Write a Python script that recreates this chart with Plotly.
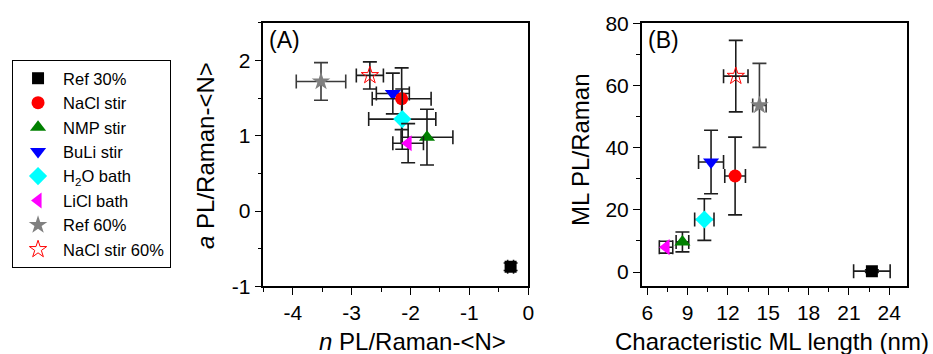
import plotly.graph_objects as go

names = ["Ref 30%", "NaCl stir", "NMP stir", "BuLi stir", "H<sub>2</sub>O bath",
         "LiCl bath", "Ref 60%", "NaCl stir 60%"]
symbols = ["square", "circle", "triangle-up", "triangle-down", "diamond",
           "triangle-left", "star", "star-open"]
colors = ["#000000", "#ff0000", "#008000", "#0000ff", "#00ffff",
          "#ff00ff", "#808080", "#ff0000"]
sizes = [12, 13, 14, 14, 14, 14, 14, 13]

# Panel A: n PL/Raman-<N>  vs  a PL/Raman-<N>
a_x = [-0.30, -2.15, -1.72, -2.30, -2.14, -2.04, -3.52, -2.69]
a_xerr = [0.05, 0.50, 0.44, 0.28, 0.57, 0.26, 0.42, 0.23]
a_y = [-0.74, 1.49, 0.98, 1.56, 1.22, 0.90, 1.72, 1.80]
a_yerr = [0.05, 0.41, 0.37, 0.27, 0.40, 0.26, 0.25, 0.18]

# Panel B: characteristic ML length vs ML PL/Raman
b_x = [22.71, 12.53, 8.61, 10.74, 10.24, 7.39, 14.34, 12.58]
b_xerr = [1.36, 0.77, 0.47, 0.93, 0.72, 0.50, 0.50, 0.91]
b_y = [0.3, 30.9, 9.7, 35.4, 16.9, 8.0, 53.6, 63.0]
b_yerr = [0.4, 12.5, 3.2, 10.2, 6.7, 1.9, 13.5, 11.5]

# Tick labels
a_xticks = [-4, -3, -2, -1, 0]
a_yticks = [-1, 0, 1, 2]
b_xticks = [6, 9, 12, 15, 18, 21, 24]
b_yticks = [0, 20, 40, 60, 80]


def lab(vals):
    return [str(v) for v in vals]  # plain hyphen minus like the reference


FONT = "Liberation Sans, Arial, sans-serif"
ERRC = "#1c1c1c"

fig = go.Figure()
order = [0, 3, 1, 2, 4, 5, 6, 7]
for i in order:
    open_m = symbols[i].endswith("open")
    marker = dict(symbol=symbols[i], size=sizes[i], color=colors[i],
                  line=dict(width=1 if open_m else 0, color=colors[i]))
    errc = "#3a3a3a" if i == 6 else ERRC
    fig.add_trace(go.Scatter(
        x=[a_x[i]], y=[a_y[i]], mode="markers", name=names[i],
        legendgroup=names[i], legendrank=i, marker=marker,
        error_x=dict(type="data", array=[a_xerr[i]], color=errc, thickness=1.6, width=7),
        error_y=dict(type="data", array=[a_yerr[i]], color=errc, thickness=1.6, width=7),
        xaxis="x", yaxis="y"))
    fig.add_trace(go.Scatter(
        x=[b_x[i]], y=[b_y[i]], mode="markers", name=names[i],
        legendgroup=names[i], showlegend=False, marker=marker,
        error_x=dict(type="data", array=[b_xerr[i]], color=errc, thickness=1.6, width=7),
        error_y=dict(type="data", array=[b_yerr[i]], color=errc, thickness=1.6, width=7),
        xaxis="x2", yaxis="y2"))

ax_common = dict(showline=True, linecolor="black", linewidth=1.5, mirror=True,
                 ticks="outside", ticklen=7, tickwidth=1.3, tickcolor="black",
                 showgrid=False, zeroline=False, automargin=False,
                 tickfont=dict(family=FONT, size=21, color="black"))


def minor(d):
    return dict(dtick=d, ticklen=4, tickwidth=1.2, tickcolor="black", ticks="outside")


ydom = [0.191, 0.936]
fig.update_layout(
    width=933, height=354,
    margin=dict(l=0, r=0, t=0, b=0, autoexpand=False),
    paper_bgcolor="white", plot_bgcolor="white",
    font=dict(family=FONT, color="black"),
    xaxis=dict(domain=[0.2822, 0.5662], range=[-4.5, 0], tickmode="array",
               tickvals=a_xticks, ticktext=lab(a_xticks), minor=minor(0.5),
               anchor="y", **ax_common),
    yaxis=dict(domain=ydom, range=[-1, 2.5], tickmode="array",
               tickvals=a_yticks, ticktext=lab(a_yticks), minor=minor(0.5),
               anchor="x", **ax_common),
    xaxis2=dict(domain=[0.6878, 0.9718], range=[5.58, 25.3], tickmode="array",
                tickvals=b_xticks, ticktext=lab(b_xticks), minor=minor(1.5),
                anchor="y2", **ax_common),
    yaxis2=dict(domain=ydom, range=[-4.6, 80.2], tickmode="array",
                tickvals=b_yticks, ticktext=lab(b_yticks), minor=minor(10),
                anchor="x2", **ax_common),
    showlegend=True,
    legend=dict(x=0.0129, y=1 - 60 / 354, xanchor="left", yanchor="top",
                bordercolor="black", borderwidth=1, bgcolor="white",
                font=dict(family=FONT, size=16.5, color="black"),
                itemwidth=40, tracegroupgap=0, traceorder="normal"),
)

ann = [
    dict(text="(A)", x=0.2865, y=0.93, xanchor="left", yanchor="top", font_size=23),
    dict(text="(B)", x=0.6925, y=0.93, xanchor="left", yanchor="top", font_size=23),
    dict(text="<i>n</i> PL/Raman-&lt;N&gt;", x=412.5/933, y=1-341/354, xanchor="center",
         yanchor="middle", font_size=24),
    dict(text="Characteristic ML length (nm)", x=772/933, y=1-341/354, xanchor="center",
         yanchor="middle", font_size=24),
    dict(text="<i>a</i> PL/Raman-&lt;N&gt;", x=206/933, y=1-156/354, xanchor="center",
         yanchor="middle", textangle=-90, font_size=24),
    dict(text="ML PL/Raman", x=580/933, y=1-150/354, xanchor="center",
         yanchor="middle", textangle=-90, font_size=24),
]
for a in ann:
    fs = a.pop("font_size")
    fig.add_annotation(xref="paper", yref="paper", showarrow=False,
                       font=dict(family=FONT, size=fs, color="black"), **a)

fig.write_html("out.html")
